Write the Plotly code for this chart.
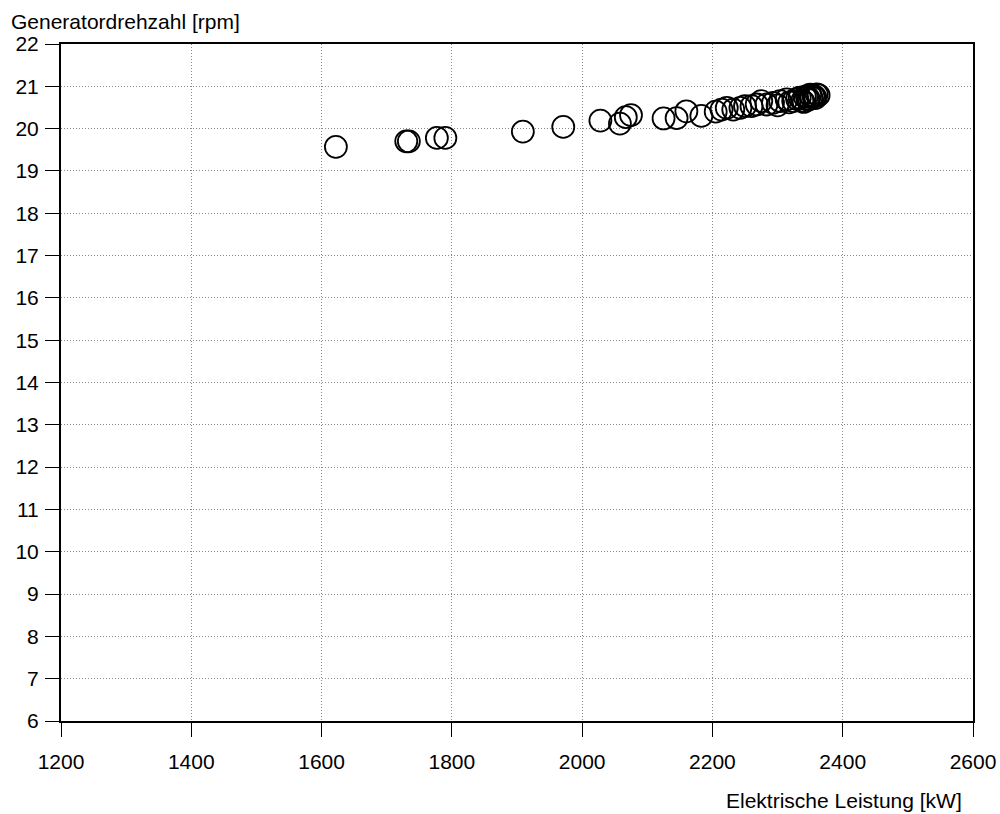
import plotly.graph_objects as go

# Elektrische Leistung [kW]
leistung = [1622, 1730, 1734, 1777, 1790, 1909, 1971, 2028, 2058, 2067, 2075,
            2125, 2145, 2160, 2183, 2205, 2214, 2222, 2232, 2243, 2250, 2260,
            2268, 2275, 2283, 2293, 2300, 2304, 2314, 2318, 2324, 2330, 2334,
            2338, 2342, 2345, 2348, 2350, 2352, 2355, 2358, 2360, 2363, 2347,
            2340, 2357]
# Generatordrehzahl [rpm]
drehzahl = [19.57, 19.70, 19.70, 19.78, 19.78, 19.93, 20.04, 20.19, 20.12, 20.27, 20.32,
            20.24, 20.25, 20.41, 20.30, 20.40, 20.45, 20.49, 20.45, 20.49, 20.53, 20.53,
            20.57, 20.65, 20.57, 20.61, 20.55, 20.65, 20.69, 20.62, 20.65, 20.70, 20.73,
            20.66, 20.75, 20.77, 20.70, 20.80, 20.74, 20.77, 20.72, 20.81, 20.79, 20.68,
            20.63, 20.76]

x_ticks = [1200, 1400, 1600, 1800, 2000, 2200, 2400, 2600]
y_ticks = list(range(6, 23))

FONT = "Liberation Sans, Arial, Helvetica, sans-serif"

fig = go.Figure(go.Scatter(
    x=leistung, y=drehzahl, mode="markers",
    marker=dict(symbol="circle-open", size=22, color="black",
                line=dict(color="black", width=1.8)),
    showlegend=False,
))

axis_common = dict(
    showline=True, linecolor="black", linewidth=2, mirror=True,
    ticks="outside", ticklen=14, tickwidth=1.2, tickcolor="black",
    showgrid=True, gridcolor="#8a8a8a", gridwidth=1, griddash="1px,2px",
    zeroline=False, automargin=False,
    tickfont=dict(family=FONT, size=21, color="black"),
)

fig.update_xaxes(range=[1200, 2600], tickvals=x_ticks, ticktext=[str(v) for v in x_ticks],
                 ticklabelstandoff=7, **axis_common)
fig.update_yaxes(range=[6, 22], tickvals=y_ticks, ticktext=[str(v) for v in y_ticks],
                 ticklabelstandoff=2, **axis_common)

fig.update_layout(
    width=1000, height=814,
    margin=dict(l=61, r=27, t=44, b=93),
    paper_bgcolor="white", plot_bgcolor="white",
    font=dict(family=FONT, color="black"),
    annotations=[
        dict(text="Generatordrehzahl [rpm]", xref="paper", yref="paper",
             x=-0.057, y=1.0, yshift=9, xanchor="left", yanchor="bottom",
             showarrow=False, font=dict(size=21)),
        dict(text="Elektrische Leistung [kW]", xref="paper", yref="paper",
             x=0.990, y=0, yshift=-66, xanchor="right", yanchor="top",
             showarrow=False, font=dict(size=21)),
    ],
)

fig.write_html("out.html")
